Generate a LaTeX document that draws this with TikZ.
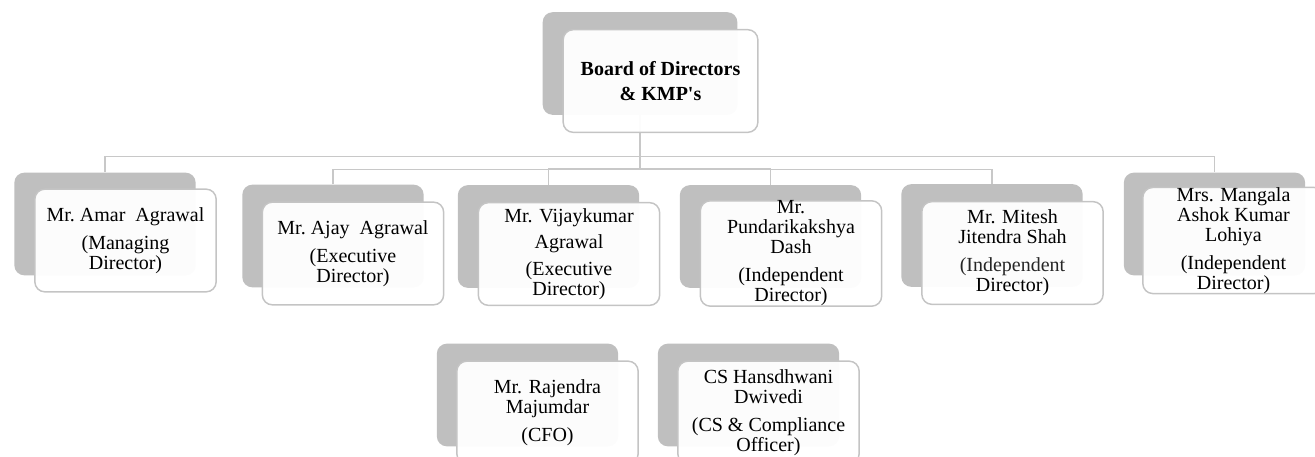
\documentclass[tikz,border=0pt]{standalone}
\usepackage{fontspec}
\setmainfont{Liberation Serif}
\usetikzlibrary{positioning}
\definecolor{backgray}{RGB}{191,191,191}
\definecolor{edgegray}{RGB}{196,196,196}
\definecolor{linegray}{RGB}{200,200,200}

\begin{document}
\begin{tikzpicture}[x=.75pt,y=-.75pt,
  backcard/.style={fill=backgray,rounded corners=7.5pt,minimum width=136pt,minimum height=77pt,inner sep=0pt},
  card/.style={draw=edgegray,line width=1.1pt,fill=white,fill opacity=.96,text opacity=1,rounded corners=7.5pt,
    minimum width=136pt,minimum height=77pt,inner sep=0pt,align=center,font=\fontsize{15}{15}\selectfont},
  branch/.style={draw=linegray,line width=1.3pt}]
\path[use as bounding box,clip] (0,0) rectangle (1315,457);

%% back cards
\node[backcard,minimum width=146pt] (boardS) at (640,63.5) {};
\node[backcard] (amarS) at (105,224) {};
\node[backcard] (ajayS) at (333,236) {};
\node[backcard] (vijayS) at (548.5,236.5) {};
\node[backcard] (pundariS) at (770.5,236.5) {};
\node[backcard] (miteshS) at (992,235.5) {};
\node[backcard] (mangalaS) at (1214.5,224) {};
\node[backcard] (rajendraS) at (527.5,395) {};
\node[backcard] (hansS) at (748.5,395) {};

%% branches
\draw[branch] (boardS.south) -- ++(0,54);
\draw[branch] (amarS.north) -- ++(0,-16) -| (mangalaS.north);
\draw[branch] (ajayS.north) -- ++(0,-15) -| (miteshS.north);
\draw[branch] (vijayS.north) -- ++(0,-16) -| (pundariS.north);

%% front cards
\node[card,minimum width=146pt,font=\fontsize{15}{15}\selectfont\bfseries] (board) at ([shift={(20.5,17.5)}]boardS) {Board of Directors\\[4pt]\& KMP\textquotesingle s};
\node[card] (amar) at ([shift={(20.5,16.5)}]amarS) {Mr.~Amar~ Agrawal\\[6pt](Managing\\Director)};
\node[card] (ajay) at ([shift={(20,17.5)}]ajayS) {Mr.~Ajay~ Agrawal\\[6pt](Executive\\Director)};
\node[card] (vijay) at ([shift={(20.5,17.5)}]vijayS) {Mr. Vijaykumar\\[5pt]Agrawal\\[5pt](Executive\\Director)};
\node[card] (pundari) at ([shift={(20.5,17)}]pundariS) {Mr.\\Pundarikakshya\\Dash\\[6pt](Independent\\Director)};
\node[card] (mitesh) at ([shift={(20.5,17.5)}]miteshS) {Mr. Mitesh\\Jitendra Shah\\[6pt]\textcolor{black!85}{(Independent}\\Director)};
\node[card] (mangala) at ([shift={(19,16.5)}]mangalaS) {Mrs. Mangala\\Ashok Kumar\\Lohiya\\[6pt](Independent\\Director)};
\node[card] (rajendra) at ([shift={(20,17.5)}]rajendraS) {Mr. Rajendra\\Majumdar\\[6pt](CFO)};
\node[card] (hans) at ([shift={(20,17.5)}]hansS) {CS Hansdhwani\\Dwivedi\\[6pt](CS \& Compliance\\Officer)};

\end{tikzpicture}
\end{document}
